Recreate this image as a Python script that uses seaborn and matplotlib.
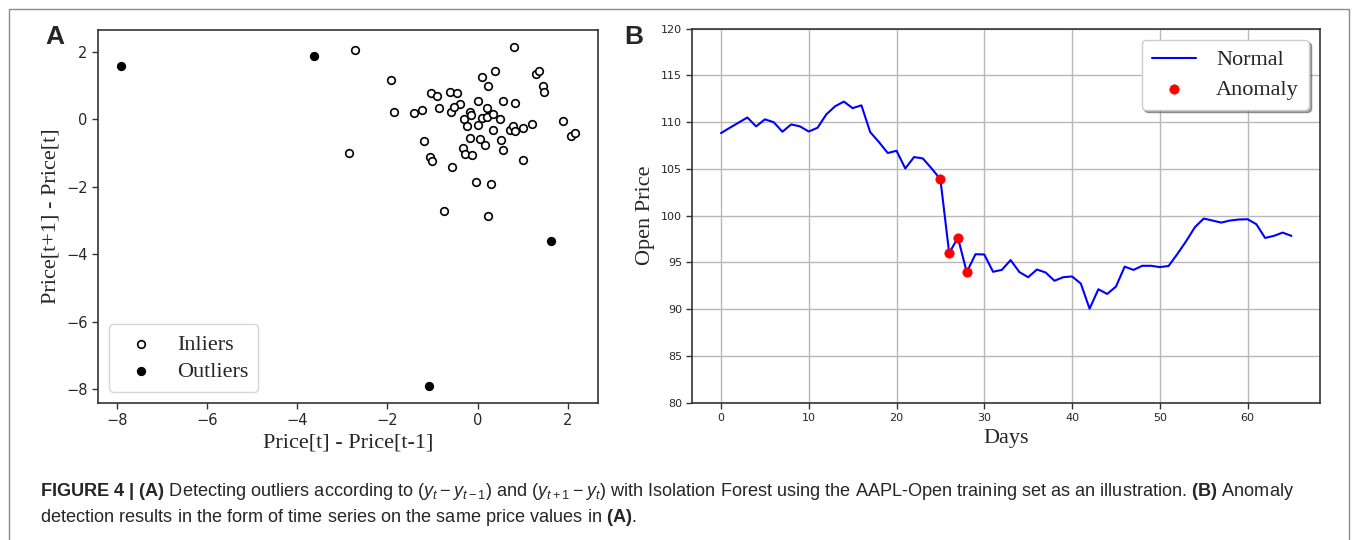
"""
isolation forest outliers (A) and anomaly time series (B)
"""

import matplotlib
matplotlib.use("Agg")
import matplotlib.pyplot as plt
from matplotlib.patches import Rectangle
import seaborn as sns

# panel A: (Price[t] - Price[t-1], Price[t+1] - Price[t])
inlier_x = [0.80, -1.91, 0.38, 0.11, 0.24, 1.29, 1.37, 1.46, 1.48, -1.03,
            -0.90, -0.62, -0.46, -0.38, 0.01, 0.56, 0.83, -1.85, -1.42, -1.23,
            -0.85, -0.59, -0.53, -0.16, -0.15, -0.29, -0.23, 0.01, 0.11, 0.20,
            0.21, 0.34, 0.49, 0.35, 0.72, 0.79, 0.84, 1.02, 1.20, 1.89,
            2.07, 2.17, -1.19, -0.17, 0.05, 0.16, 0.51, 0.56, -0.33, -0.27,
            -0.13, -1.05, -1.00, -0.57, 1.00, -0.04, 0.30, -0.75, 0.24, -2.72,
            -2.85]
inlier_y = [2.15, 1.17, 1.45, 1.27, 0.99, 1.34, 1.43, 1.00, 0.81, 0.79,
            0.71, 0.81, 0.79, 0.47, 0.55, 0.55, 0.49, 0.23, 0.19, 0.29,
            0.33, 0.23, 0.37, 0.21, 0.12, 0.00, -0.19, -0.17, 0.04, 0.34,
            0.08, 0.15, 0.00, -0.30, -0.30, -0.18, -0.34, -0.25, -0.15, -0.04,
            -0.49, -0.39, -0.64, -0.56, -0.59, -0.77, -0.61, -0.91, -0.86, -1.04,
            -1.05, -1.10, -1.24, -1.42, -1.21, -1.86, -1.92, -2.73, -2.86, 2.06,
            -1.01]
outlier_x = [-7.92, -3.62, 1.62, -1.08]
outlier_y = [1.60, 1.87, -3.62, -7.91]

# panel B: open price per day
days = list(range(66))
open_price = [108.83, 109.40, 109.95, 110.50, 109.55, 110.30, 110.00, 108.98, 109.76, 109.55,
              109.00, 109.40, 110.83, 111.70, 112.20, 111.50, 111.80, 108.94, 107.87, 106.70,
              106.94, 105.05, 106.27, 106.12, 105.05, 103.90, 96.00, 97.65, 93.96, 95.88,
              95.85, 94.00, 94.20, 95.25, 93.97, 93.42, 94.24, 93.92, 93.04, 93.42,
              93.50, 92.74, 90.05, 92.13, 91.63, 92.41, 94.55, 94.20, 94.64, 94.64,
              94.50, 94.62, 95.90, 97.27, 98.77, 99.69, 99.48, 99.26, 99.48, 99.59,
              99.62, 99.09, 97.62, 97.84, 98.19, 97.84]
anomaly_days = [25, 26, 27, 28]
anomaly_price = [open_price[d] for d in anomaly_days]

sns.set_theme(style="white")
plt.rcParams['font.family'] = ['DejaVu Sans']
plt.rcParams['mathtext.fontset'] = 'custom'
plt.rcParams['mathtext.rm'] = 'Liberation Sans'
plt.rcParams['mathtext.it'] = 'Liberation Sans:italic'
plt.rcParams['mathtext.bf'] = 'Liberation Sans:bold'
serif = {'family': 'Liberation Serif', 'size': 16}

fig = plt.figure(figsize=(13.57, 5.40), dpi=100)
axA = fig.add_axes([0.0722, 0.2537, 0.3685, 0.6907])
axB = fig.add_axes([0.5103, 0.2543, 0.4624, 0.6926])

# --- A ---
sns.scatterplot(x=inlier_x, y=inlier_y, ax=axA, s=30, facecolor='white',
                edgecolor='black', linewidth=1.2, label='Inliers')
sns.scatterplot(x=outlier_x, y=outlier_y, ax=axA, s=30, color='black',
                edgecolor='black', linewidth=1.2, label='Outliers')
axA.set_xticks([-8, -6, -4, -2, 0, 2])
axA.set_yticks([-8, -6, -4, -2, 0, 2])
axA.tick_params(labelsize=10.5, length=4, width=1, color='#333333', left=True, bottom=True)
axA.set_xlabel('Price[t] - Price[t-1]', fontdict=serif)
axA.set_ylabel('Price[t+1] - Price[t]', fontdict=serif)
axA.legend(loc='lower left', prop=serif, handletextpad=0.6, borderpad=0.45,
           labelspacing=0.3, framealpha=0.8)

# --- B ---
sns.lineplot(x=days, y=open_price, ax=axB, color='blue', linewidth=1.5, label='Normal')
sns.scatterplot(x=anomaly_days, y=anomaly_price, ax=axB, color='red', s=45,
                edgecolor='red', label='Anomaly', zorder=3)
axB.set_ylim(80, 120)
axB.set_xticks([0, 10, 20, 30, 40, 50, 60])
axB.set_yticks(range(80, 121, 5))
axB.grid(True, color='#b8b8b8', linewidth=1)
axB.tick_params(labelsize=8, length=4, width=1, color='#333333', left=True, bottom=True)
axB.set_xlabel('Days', fontdict=serif)
axB.set_ylabel('Open Price', fontdict=serif)
axB.legend(loc='upper right', prop=serif, shadow=True, fancybox=True,
           framealpha=1, handletextpad=0.9, borderpad=0.45, labelspacing=0.4)

for ax in (axA, axB):
    for sp in ax.spines.values():
        sp.set_color('#333333')
        sp.set_linewidth(1.2)

fig.text(55 / 1357, 1 - 37 / 540, 'A', family='Liberation Sans', weight='bold',
         size=19, ha='center', va='center')
fig.text(634 / 1357, 1 - 37 / 540, 'B', family='Liberation Sans', weight='bold',
         size=19, ha='center', va='center')

cap1 = (r'$\mathbf{FIGURE\ 4\ |\ (A)}$ Detecting outliers according to $(y_t - y_{t-1})$ and '
        r'$(y_{t+1} - y_t)$ with Isolation Forest using the AAPL-Open training set as an '
        r'illustration. $\mathbf{(B)}$ Anomaly')
cap2 = r'detection results in the form of time series on the same price values in $\mathbf{(A)}$.'
fig.text(40 / 1357, 1 - 492 / 540, cap1, family='Liberation Sans', size=13.1, va='center')
fig.text(40 / 1357, 1 - 517 / 540, cap2, family='Liberation Sans', size=13.1, va='center')

fig.patches.append(Rectangle((9 / 1357, -0.1), 1340 / 1357, 1.1 - 9 / 540,
                             transform=fig.transFigure, fill=False,
                             edgecolor='#8a8a8a', linewidth=1))

fig.savefig('out.png', dpi=100)
